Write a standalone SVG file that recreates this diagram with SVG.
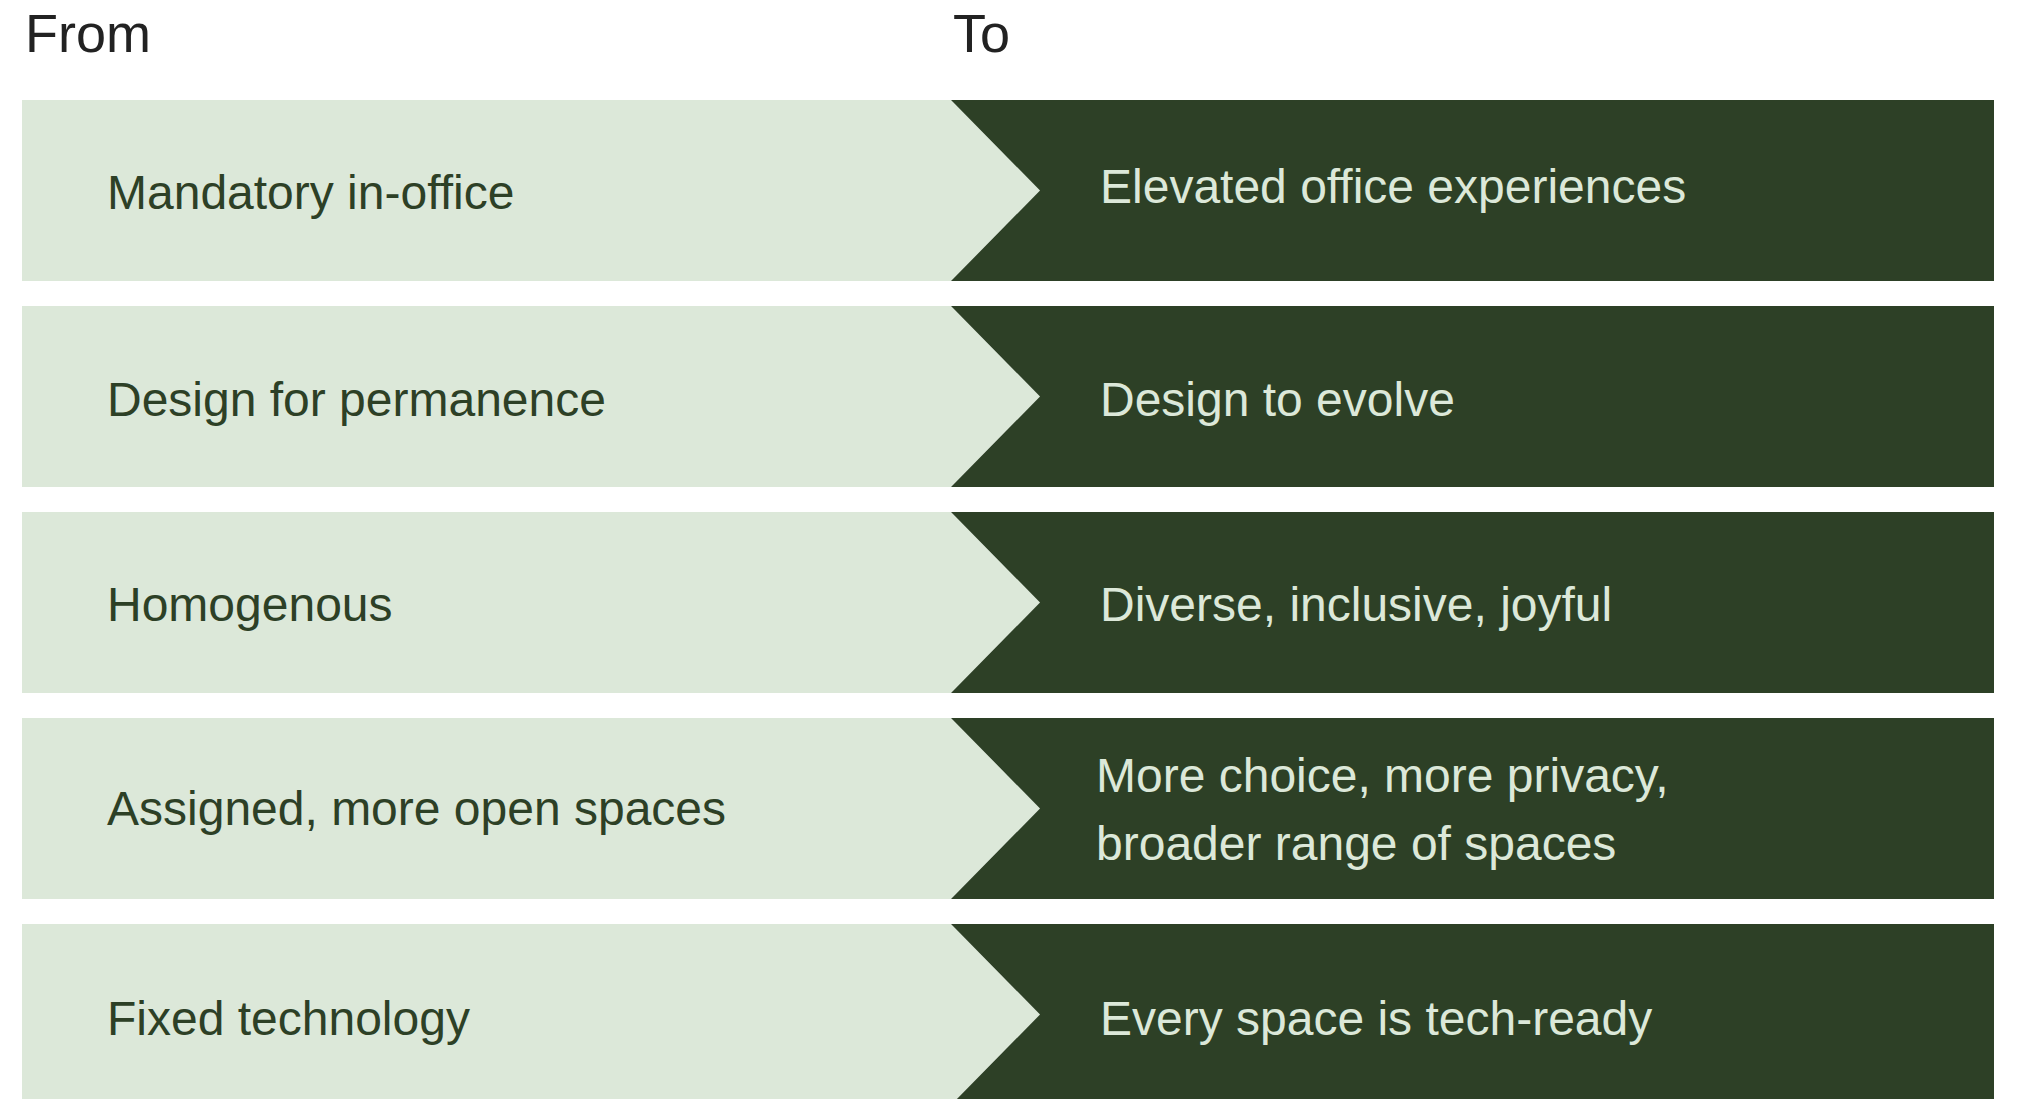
<svg xmlns="http://www.w3.org/2000/svg" width="2021" height="1099" viewBox="0 0 2021 1099">
<style>
.hdr{font-family:"Liberation Sans",Arial,sans-serif;font-size:54px;fill:#222222}
.from{fill:#DCE8D9}
.to{fill:#2D4026}
.ft{font-family:"Liberation Sans",Arial,sans-serif;font-size:48px;fill:#2D4026}
.tt{font-family:"Liberation Sans",Arial,sans-serif;font-size:48px;fill:#DCE8D9}
</style>
<rect width="2021" height="1099" fill="#ffffff"/>
<text class="hdr" x="25" y="52">From</text>
<text class="hdr" x="953" y="52">To</text>
<g id="row1">
<polygon class="from" points="22,100 951,100 1040,190.5 951,281 22,281"/>
<polygon class="to" points="951,100 1994,100 1994,281 951,281 1040,190.5"/>
<text class="ft" x="107" y="209">Mandatory in-office</text>
<text class="tt" x="1100" y="203">Elevated office experiences</text>
</g>
<g id="row2">
<polygon class="from" points="22,306 951,306 1040,396.5 951,487 22,487"/>
<polygon class="to" points="951,306 1994,306 1994,487 951,487 1040,396.5"/>
<text class="ft" x="107" y="416">Design for permanence</text>
<text class="tt" x="1100" y="416">Design to evolve</text>
</g>
<g id="row3">
<polygon class="from" points="22,512 951,512 1040,602.5 951,693 22,693"/>
<polygon class="to" points="951,512 1994,512 1994,693 951,693 1040,602.5"/>
<text class="ft" x="107" y="621">Homogenous</text>
<text class="tt" x="1100" y="621">Diverse, inclusive, joyful</text>
</g>
<g id="row4">
<polygon class="from" points="22,718 951,718 1040,808.5 951,899 22,899"/>
<polygon class="to" points="951,718 1994,718 1994,899 951,899 1040,808.5"/>
<text class="ft" x="107" y="825">Assigned, more open spaces</text>
<text class="tt" x="1096" y="792">More choice, more privacy,</text>
<text class="tt" x="1096" y="860">broader range of spaces</text>
</g>
<g id="row5">
<polygon class="from" points="22,924 951,924 1040,1014.5 951,1105 22,1105"/>
<polygon class="to" points="951,924 1994,924 1994,1105 951,1105 1040,1014.5"/>
<text class="ft" x="107" y="1035">Fixed technology</text>
<text class="tt" x="1100" y="1035">Every space is tech-ready</text>
</g>
<g id="connectors"></g>
</svg>
